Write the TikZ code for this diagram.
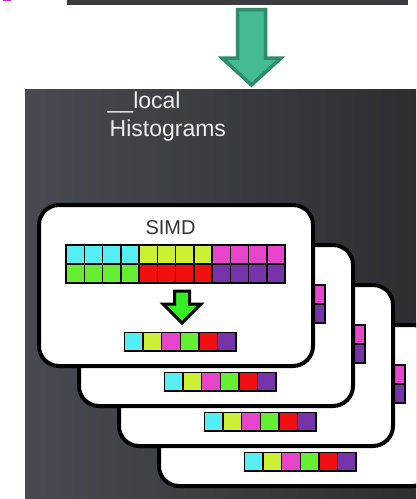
\documentclass[tikz,border=0pt]{standalone}
\usepackage{fontspec}
\setmainfont{Liberation Sans}
\definecolor{panelL}{HTML}{474A50}
\definecolor{panelR}{HTML}{2C2E32}
\definecolor{bandgray}{HTML}{3B3C40}
\definecolor{arrowfill}{HTML}{45BB93}
\definecolor{arrowedge}{HTML}{2E8C6A}
\definecolor{ccyan}{HTML}{55EEF5}
\definecolor{clime}{HTML}{CCF033}
\definecolor{cmagenta}{HTML}{E844CC}
\definecolor{cgreen}{HTML}{66EE33}
\definecolor{cred}{HTML}{F01010}
\definecolor{cpurple}{HTML}{7733AA}
\definecolor{simdgreen}{HTML}{33EE22}
\definecolor{labelgray}{HTML}{EDEDED}
\definecolor{simdtext}{HTML}{333333}
\tikzset{
  cardbox/.style={draw=black, line width=4pt, fill=white, rounded corners=20pt},
  cell/.style={draw=black, line width=1.5pt},
  bigarrow/.style={fill=arrowfill, draw=arrowedge, line width=3.5pt, line join=miter},
  smallarrow/.style={fill=simdgreen, draw=black, line width=3pt, line join=miter},
  paneltext/.style={text=labelgray, font=\fontsize{23}{28}\selectfont, anchor=north west, align=left, inner sep=0pt},
  simdlabel/.style={text=simdtext, font=\fontsize{20}{24}\selectfont, inner sep=0pt}
}
\begin{document}
\begin{tikzpicture}[x=1pt,y=-1pt]
\useasboundingbox (0,0) rectangle (416,499);
\fill[white] (0,0) rectangle (416,499);

% strip of the panel above and a stray mark at the corner
\fill[bandgray] (67,0) rectangle (408,5);
\fill[violet!60!magenta!80] (3,0) rectangle (11,1.2);

% downward arrow between the panels
\draw[bigarrow] (237.5,9.5) -- (265.5,9.5) -- (265.5,58) -- (281,58) -- (251.5,85)
  -- (222,58) -- (237.5,58) -- cycle;

\begin{scope}
\clip (25,89) rectangle (416,499);
% dark panel
\shade[left color=panelL, right color=panelR] (25,89) rectangle (416,499);
\node[paneltext] (title) at (107.5,92) {\_\_local\\\hspace*{2pt}Histograms};

% stack of work-group cards, back to front
\foreach \k in {3,2,1,0}{
  \begin{scope}[shift={(40*\k,40*\k)}]
    \draw[cardbox] (39,205) rectangle (313,366);
    \node[simdlabel] (simd\k) at (170.5,228) {SIMD};
    % two rows of twelve lanes
    \foreach \i in {0,...,11}{
      \pgfmathsetmacro{\xa}{66+18.25*\i}
      \pgfmathsetmacro{\xb}{66+18.25*(\i+1)}
      \ifnum\i<4
        \def\topc{ccyan}\def\botc{cgreen}
      \else\ifnum\i<8
        \def\topc{clime}\def\botc{cred}
      \else
        \def\topc{cmagenta}\def\botc{cpurple}
      \fi\fi
      \draw[cell, fill=\topc] (\xa,245) rectangle (\xb,264);
      \draw[cell, fill=\botc] (\xa,264) rectangle (\xb,283);
    }
    % reduction arrow
    \draw[smallarrow] (174.5,291) -- (189.5,291) -- (189.5,304) -- (201,304) -- (182,323)
      -- (163,304) -- (174.5,304) -- cycle;
    % reduced row of six bins
    \foreach \c [count=\j from 0] in {ccyan,clime,cmagenta,cgreen,cred,cpurple}{
      \pgfmathsetmacro{\xa}{124.5+18.6*\j}
      \pgfmathsetmacro{\xb}{124.5+18.6*(\j+1)}
      \draw[cell, fill=\c] (\xa,332.5) rectangle (\xb,351);
    }
  \end{scope}
}
\end{scope}
\end{tikzpicture}
\end{document}
